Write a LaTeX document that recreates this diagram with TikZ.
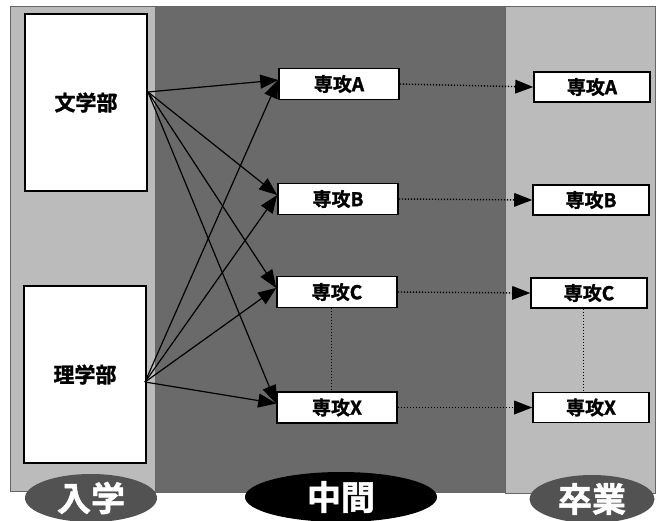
\documentclass[tikz,border=0pt]{standalone}
\usepackage{fontspec}
\newfontfamily\jp[FakeBold=1.5]{Noto Sans CJK JP Bold}
\usetikzlibrary{arrows.meta,shapes.geometric}
\definecolor{lightpanel}{HTML}{BBBBBB}
\definecolor{darkpanel}{HTML}{6A6A6A}
\definecolor{ovalgray}{HTML}{525252}
\tikzset{
  panel/.style={draw=black!60, line width=0.8pt},
  srcbox/.style={draw=black, line width=2pt, fill=white, minimum width=122pt, minimum height=177pt, font=\jp\fontsize{21}{21}\selectfont},
  majbox/.style={draw=black, line width=1.6pt, fill=white, minimum width=120pt, minimum height=31pt, font=\jp\fontsize{19}{19}\selectfont},
  rbox/.style={draw=black, line width=1.6pt, fill=white, minimum width=116pt, minimum height=30pt, font=\jp\fontsize{19}{19}\selectfont},
  link/.style={draw=black, line width=1.2pt, -{Triangle[length=18pt,width=14pt]}},
  dotlink/.style={draw=black, line width=1.4pt, dash pattern=on 1.4pt off 1.6pt, -{Triangle[length=18pt,width=14pt,line width=0pt]}},
  dotline/.style={draw=black, line width=1pt, dash pattern=on 1pt off 2pt},
  stage/.style={ellipse, fill=ovalgray, text=white, minimum width=132pt, minimum height=48pt, inner sep=0pt, font=\jp\fontsize{34}{34}\selectfont},
  midstage/.style={ellipse, fill=black, text=white, minimum width=192pt, minimum height=50pt, inner sep=0pt, font=\jp\fontsize{34}{34}\selectfont}
}
\begin{document}
\begin{tikzpicture}[x=1pt,y=-1pt]
\useasboundingbox (0,0) rectangle (664,520);
\fill[white] (0,0) rectangle (664,520);
% panels
\fill[lightpanel] (10,6) rectangle (155,491);
\fill[darkpanel] (155,6) rectangle (505,492);
\fill[lightpanel] (505,6) rectangle (655,493);
\draw[panel] (10,6) rectangle (155,491);
\draw[panel] (155,6) rectangle (505,492);
\draw[panel] (505,6) rectangle (655,493);
% source boxes
\node[srcbox] (bun) at (86,102.5) {文学部};
\node[srcbox] (ri) at (85,374.5) {理学部};
\coordinate (bo) at (148,92);
\coordinate (ro) at (145,382);
% middle boxes
\node[majbox] (mA) at (339,84) {専攻A};
\node[majbox] (mB) at (338,199) {専攻B};
\node[majbox] (mC) at (337,292) {専攻C};
\node[majbox] (mX) at (337,407.5) {専攻X};
% right boxes
\node[rbox] (rA) at (592,87) {専攻A};
\node[rbox] (rB) at (591,200) {専攻B};
\node[rbox] (rC) at (589,293) {専攻C};
\node[rbox] (rX) at (591,407.5) {専攻X};
% arrows from faculties
\foreach \t in {mA,mB,mC,mX}{
  \draw[link] (bo) -- ([yshift=4pt]\t.west);
  \draw[link] (ro) -- ([yshift=4pt]\t.west);
}
% dotted arrows to graduation
\draw[dotlink] (mA.east) -- (rA.west);
\draw[dotlink] (mB.east) -- (rB.west);
\draw[dotlink] (mC.east) -- (rC.west);
\draw[dotlink] (mX.east) -- (rX.west);
% vertical dotted lines
\draw[dotline] ([xshift=-6pt]mC.south) -- ([xshift=-6pt]mX.north);
\draw[dotline] ([xshift=-6pt]rC.south) -- ([xshift=-8pt]rX.north);
% stage ovals
\node[stage] (nyu) at (91,498) {入学};
\node[midstage] (chu) at (341,497) {中間};
\node[stage, minimum width=125pt] (sotsu) at (592,499) {卒業};
\end{tikzpicture}
\end{document}
